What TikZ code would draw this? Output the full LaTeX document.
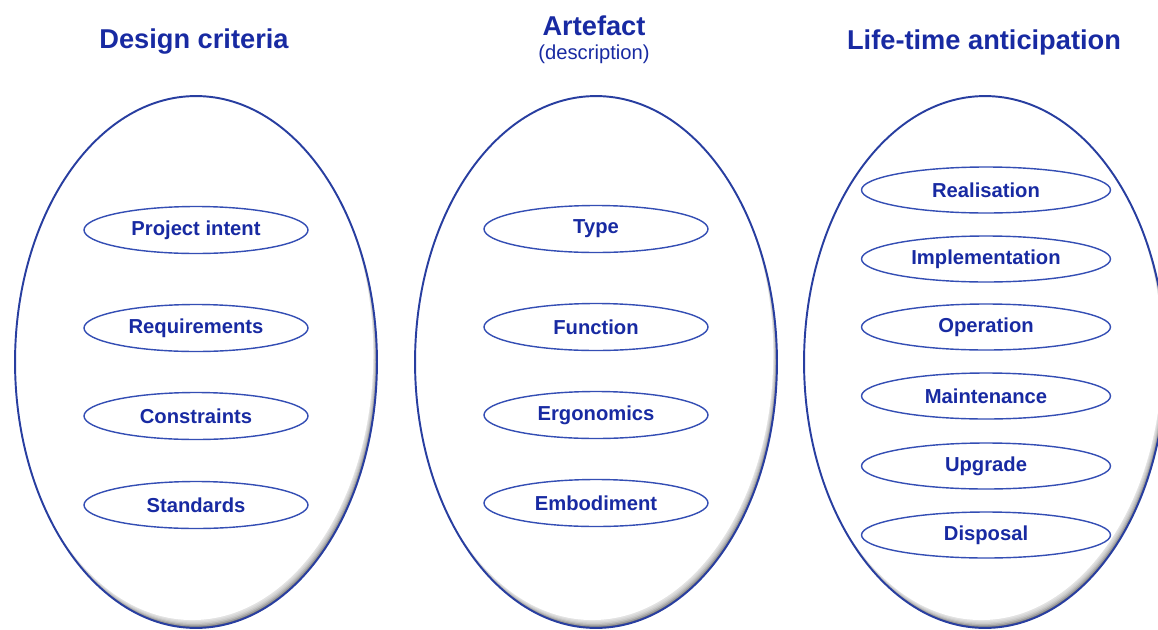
\documentclass[tikz,border=0pt]{standalone}
\usepackage{fontspec}
\setmainfont{Liberation Sans}
\usetikzlibrary{shapes.geometric}
\definecolor{textblue}{RGB}{24,42,162}
\definecolor{lineblue}{RGB}{52,78,180}
\definecolor{ovalblue}{RGB}{40,62,160}

\begin{document}
\begin{tikzpicture}[x=0.02cm,y=-0.02cm,
    title/.style={text=textblue,font=\bfseries\fontsize{15.5}{18}\selectfont},
    subtitle/.style={text=textblue,font=\fontsize{11.5}{13}\selectfont},
    bigoval/.style={shape=ellipse,draw=ovalblue,line width=1.1pt,fill=white,
        minimum width=7.24cm,minimum height=10.64cm,inner sep=0pt,
        path picture={
            \fill[black!75] (path picture bounding box.south west) rectangle (path picture bounding box.north east);
            \foreach \k in {0,...,5}
                \fill[white,opacity=0.28] ([xshift=-0.35*\k pt,yshift=0.75*\k pt]path picture bounding box.center) ellipse (3.62cm and 5.32cm);
            \fill[white] ([xshift=-2.1pt,yshift=4.5pt]path picture bounding box.center) ellipse (3.62cm and 5.32cm);
        }},
    item/.style={shape=ellipse,draw=lineblue,line width=0.8pt,inner sep=0pt,
        minimum width=4.48cm,minimum height=0.94cm,
        text=textblue,font=\bfseries\fontsize{11.5}{13}\selectfont},
    wideitem/.style={item,minimum width=4.98cm,minimum height=0.92cm}]
    \useasboundingbox (0,0) rectangle (1158,629);

    % titles
    \node[title] (tdesign) at (194,42) {Design criteria};
    \node[title] (tartefact) at (594,26) {Artefact};
    \node[subtitle] (tdescr) at (594,54) {(description)};
    \node[title] (tlife) at (984,42) {Life-time anticipation};

    % big ovals
    \node[bigoval] (design) at (196,362) {};
    \node[bigoval] (artefact) at (596,362) {};
    \node[bigoval] (life) at (985,362) {};

    % design criteria
    \node[item] (intent) at (196,230) {Project intent};
    \node[item] (req) at (196,328) {Requirements};
    \node[item] (constr) at (196,416) {Constraints};
    \node[item] (std) at (196,505) {Standards};

    % artefact
    \node[item] (type) at (596,229) {Type};
    \node[item] (func) at (596,327) {Function};
    \node[item] (ergo) at (596,415) {Ergonomics};
    \node[item] (embod) at (596,503) {Embodiment};

    % life-time
    \node[wideitem] (real) at (986,190) {Realisation};
    \node[wideitem] (impl) at (986,259) {Implementation};
    \node[wideitem] (oper) at (986,327) {Operation};
    \node[wideitem] (maint) at (986,396) {Maintenance};
    \node[wideitem] (upgr) at (986,466) {Upgrade};
    \node[wideitem] (disp) at (986,535) {Disposal};
\end{tikzpicture}
\end{document}
